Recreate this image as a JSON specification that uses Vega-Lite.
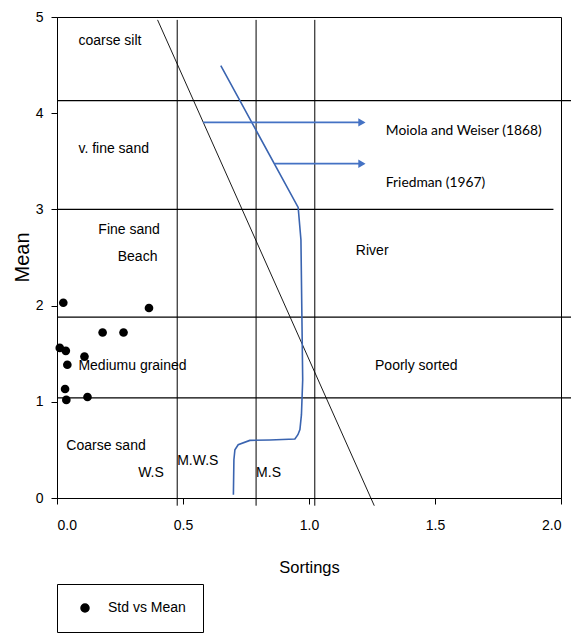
{
  "$schema": "https://vega.github.io/schema/vega-lite/v6.json",
  "width": 504,
  "height": 481,
  "autosize": {"type": "none"},
  "padding": {"left": 57, "top": 17, "right": 10, "bottom": 135},
  "background": "white",
  "config": {
    "view": {"stroke": "black", "strokeWidth": 1},
    "axis": {
      "grid": false,
      "domainColor": "black",
      "tickColor": "black",
      "tickSize": 6,
      "labelColor": "black",
      "labelFont": "Liberation Sans",
      "labelFontSize": 14,
      "titleColor": "black",
      "titleFontWeight": "normal"
    },
    "text": {"font": "Liberation Sans", "fontSize": 14, "color": "black"}
  },
  "datasets": {
    "hlines": [
      {"y": 4.13, "x": 0, "x2": 2.04},
      {"y": 3.0, "x": 0, "x2": 1.97},
      {"y": 1.88, "x": 0, "x2": 2.04},
      {"y": 1.04, "x": 0, "x2": 2.04}
    ],
    "vlines": [
      {"x": 0.477, "y": -0.08, "y2": 4.97},
      {"x": 0.79, "y": -0.08, "y2": 4.97},
      {"x": 1.023, "y": -0.08, "y2": 4.97}
    ],
    "diag": [
      {"x": 0.399, "y": 4.97, "x2": 1.259, "y2": -0.08}
    ],
    "curve": [
      {"o": 1, "x": 0.65, "y": 4.494},
      {"o": 2, "x": 0.957, "y": 3.021},
      {"o": 3, "x": 0.968, "y": 2.685},
      {"o": 4, "x": 0.975, "y": 1.23},
      {"o": 5, "x": 0.97, "y": 0.866},
      {"o": 6, "x": 0.964, "y": 0.711},
      {"o": 7, "x": 0.956, "y": 0.658},
      {"o": 8, "x": 0.944, "y": 0.613},
      {"o": 9, "x": 0.845, "y": 0.603},
      {"o": 10, "x": 0.765, "y": 0.599},
      {"o": 11, "x": 0.719, "y": 0.554},
      {"o": 12, "x": 0.706, "y": 0.502},
      {"o": 13, "x": 0.702, "y": 0.398},
      {"o": 14, "x": 0.7, "y": 0.034}
    ],
    "arrows": [
      {"x": 0.58, "x2": 1.215, "y": 3.904},
      {"x": 0.864, "x2": 1.215, "y": 3.475}
    ],
    "heads": [
      {"x": 1.21, "y": 3.904},
      {"x": 1.21, "y": 3.475}
    ],
    "points": [
      {"std": 0.025, "mean": 2.03, "series": "Std vs Mean"},
      {"std": 0.365, "mean": 1.975, "series": "Std vs Mean"},
      {"std": 0.181, "mean": 1.72, "series": "Std vs Mean"},
      {"std": 0.264, "mean": 1.72, "series": "Std vs Mean"},
      {"std": 0.011, "mean": 1.56, "series": "Std vs Mean"},
      {"std": 0.035, "mean": 1.53, "series": "Std vs Mean"},
      {"std": 0.109, "mean": 1.47, "series": "Std vs Mean"},
      {"std": 0.041, "mean": 1.385, "series": "Std vs Mean"},
      {"std": 0.032, "mean": 1.133, "series": "Std vs Mean"},
      {"std": 0.037, "mean": 1.02, "series": "Std vs Mean"},
      {"std": 0.121, "mean": 1.05, "series": "Std vs Mean"}
    ],
    "labels": [
      {"x": 0.085, "y": 4.746, "t": "coarse silt"},
      {"x": 0.085, "y": 3.63, "t": "v. fine sand"},
      {"x": 0.164, "y": 2.79, "t": "Fine sand"},
      {"x": 0.241, "y": 2.51, "t": "Beach"},
      {"x": 0.085, "y": 1.375, "t": "Mediumu grained"},
      {"x": 0.037, "y": 0.536, "t": "Coarse sand"},
      {"x": 0.322, "y": 0.26, "t": "W.S"},
      {"x": 0.477, "y": 0.38, "t": "M.W.S"},
      {"x": 0.79, "y": 0.26, "t": "M.S"},
      {"x": 1.186, "y": 2.563, "t": "River"},
      {"x": 1.262, "y": 1.375, "t": "Poorly sorted"}
    ],
    "refs": [
      {"x": 1.305, "y": 3.81, "t": "Moiola and Weiser (1868)"},
      {"x": 1.305, "y": 3.275, "t": "Friedman (1967)"}
    ]
  },
  "layer": [
    {
      "data": {"name": "hlines"},
      "mark": {"type": "rule", "color": "black", "strokeWidth": 1.3},
      "encoding": {
        "x": {"field": "x", "type": "quantitative", "scale": {"domain": [0, 2], "nice": false},
          "axis": {"values": [0, 0.5, 1, 1.5, 2], "format": ".1f", "labelPadding": 14, "title": "Sortings",
            "titleFont": "Liberation Sans", "titleFontSize": 16.5, "titleBaseline": "alphabetic", "titleY": 74, "titleX": 252}},
        "x2": {"field": "x2"},
        "y": {"field": "y", "type": "quantitative", "scale": {"domain": [0, 5], "nice": false},
          "axis": {"values": [0, 1, 2, 3, 4, 5], "format": "d", "labelPadding": 8, "title": "Mean",
            "titleFont": "Liberation Sans", "titleFontSize": 20, "titleBaseline": "alphabetic", "titleAngle": -90, "titleX": -29, "titleY": 240}}
      }
    },
    {
      "data": {"name": "vlines"},
      "mark": {"type": "rule", "color": "black", "strokeWidth": 1},
      "encoding": {
        "x": {"field": "x", "type": "quantitative"},
        "y": {"field": "y", "type": "quantitative"},
        "y2": {"field": "y2"}
      }
    },
    {
      "data": {"name": "diag"},
      "mark": {"type": "rule", "color": "black", "strokeWidth": 0.9},
      "encoding": {
        "x": {"field": "x", "type": "quantitative"},
        "y": {"field": "y", "type": "quantitative"},
        "x2": {"field": "x2"},
        "y2": {"field": "y2"}
      }
    },
    {
      "data": {"name": "curve"},
      "mark": {"type": "line", "color": "#3A64B0", "strokeWidth": 1.6},
      "encoding": {
        "x": {"field": "x", "type": "quantitative"},
        "y": {"field": "y", "type": "quantitative"},
        "order": {"field": "o", "type": "quantitative"}
      }
    },
    {
      "data": {"name": "arrows"},
      "mark": {"type": "rule", "color": "#4472C4", "strokeWidth": 1.8},
      "encoding": {
        "x": {"field": "x", "type": "quantitative"},
        "x2": {"field": "x2"},
        "y": {"field": "y", "type": "quantitative"}
      }
    },
    {
      "data": {"name": "heads"},
      "mark": {"type": "point", "shape": "triangle-right", "filled": true, "color": "#4472C4", "size": 70, "opacity": 1},
      "encoding": {
        "x": {"field": "x", "type": "quantitative"},
        "y": {"field": "y", "type": "quantitative"}
      }
    },
    {
      "data": {"name": "points"},
      "mark": {"type": "point", "shape": "circle", "filled": true, "size": 75, "opacity": 1},
      "encoding": {
        "x": {"field": "std", "type": "quantitative"},
        "y": {"field": "mean", "type": "quantitative"},
        "color": {"field": "series", "type": "nominal", "scale": {"range": ["black"]},
          "legend": {"orient": "none", "legendX": 0, "legendY": 567, "title": null, "strokeColor": "black", "fillColor": "white",
            "padding": 17, "labelFont": "Liberation Sans", "labelFontSize": 14, "labelColor": "black",
            "symbolType": "circle", "symbolSize": 64, "symbolFillColor": "black", "symbolStrokeColor": "black", "symbolOffset": 4, "labelOffset": 16}}
      }
    },
    {
      "data": {"name": "labels"},
      "mark": {"type": "text", "align": "left", "baseline": "middle"},
      "encoding": {
        "x": {"field": "x", "type": "quantitative"},
        "y": {"field": "y", "type": "quantitative"},
        "text": {"field": "t"}
      }
    },
    {
      "data": {"name": "refs"},
      "mark": {"type": "text", "align": "left", "baseline": "middle", "font": "Lato", "fontSize": 13.8},
      "encoding": {
        "x": {"field": "x", "type": "quantitative"},
        "y": {"field": "y", "type": "quantitative"},
        "text": {"field": "t"}
      }
    }
  ]
}
